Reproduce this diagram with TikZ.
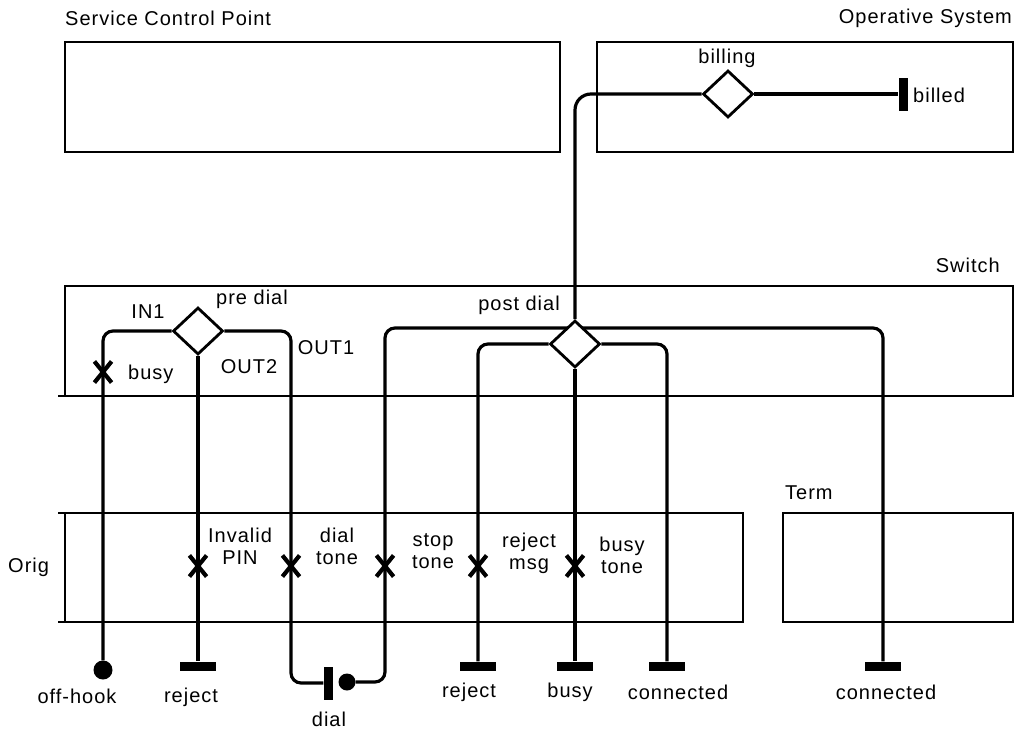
\documentclass[tikz,border=0pt]{standalone}
\usepackage{fontspec}
\setmainfont[LetterSpace=5]{Liberation Sans}
\usetikzlibrary{positioning,shapes.geometric,shapes.misc,backgrounds}

\tikzset{
  lane/.style={line width=1.3pt},
  wire/.style={line width=3.2pt, rounded corners=10pt},
  choice/.style={diamond, draw, fill=white, line width=2.8pt, inner sep=0pt,
    minimum width=50pt, minimum height=47pt},
  xmark/.style={cross out, draw, line width=4.2pt, inner sep=0pt,
    minimum width=13pt, minimum height=17pt},
  endbar/.style={fill, inner sep=0pt, minimum width=36pt, minimum height=9pt},
  sidebar/.style={fill, inner sep=0pt, minimum width=9pt, minimum height=33pt},
  startdot/.style={circle, fill, inner sep=0pt, minimum size=19pt},
  lbl/.style={font=\fontsize{20}{22}\selectfont, inner sep=0pt, align=center},
}

\begin{document}
\begin{tikzpicture}[x=1pt, y=-1pt]
  \useasboundingbox (0,0) rectangle (1019,736);

  % choice points
  \node[choice] (billing) at (728,94) {};
  \node[choice] (pre)     at (198,331) {};
  \node[choice] (post)    at (575,344) {};
  \coordinate (tap) at (575,328);

  % start and end markers
  \node[startdot] (hook)    at (103,670) {};
  \node[endbar]   (rejA)    at (198,666) {};
  \node[sidebar]  (dialbar) at (328,683) {};
  \node[startdot, minimum size=17pt] (dialdot) at (347,682) {};
  \node[endbar]   (rejB)    at (478,666) {};
  \node[endbar]   (busy)    at (575,666) {};
  \node[endbar]   (conn)    at (667,666) {};
  \node[endbar]   (tconn)   at (883,666) {};
  \node[sidebar]  (billed)  at (903,94) {};

  % signals
  \node[xmark] (xbusy) at (103,372) {};
  \node[xmark] (xpin)  at (198,566) {};
  \node[xmark] (xdt)   at (291,566) {};
  \node[xmark] (xst)   at (385,566) {};
  \node[xmark] (xrm)   at (478,566) {};
  \node[xmark] (xbt)   at (575,566) {};

  \begin{scope}[on background layer]
    % lanes
    \draw[lane] (65,42) rectangle (560,152);
    \draw[lane] (597,42) rectangle (1013,152);
    \draw[lane] (65,286) rectangle (1013,396);
    \draw[lane] (65,513) rectangle (743,622);
    \draw[lane] (783,513) rectangle (1013,622);
    \draw[lane] (58,396) -- (65,396) (58,513) -- (65,513) (58,622) -- (65,622);
    % wires
    \draw[wire] (pre.west) -| (hook.north);
    \draw[wire] (pre.south) -- (rejA.north);
    \draw[wire] (pre.east) -| (xdt.center) |- (dialbar.west);
    \draw[wire] (dialdot.east) -| (tap -| xst) -| (tconn.north);
    \draw[wire, rounded corners=16pt] (billing.west) -| (post.north);
    \draw[wire] (billing.east) -- (billed.west);
    \draw[wire] (post.west) -| (rejB.north);
    \draw[wire] (post.south) -- (busy.north);
    \draw[wire] (post.east) -| (conn.north);
  \end{scope}

  % labels
  \node[lbl, anchor=west] (lscp)    at (65,18)   {Service Control Point};
  \node[lbl, anchor=east] (los)     at (1012,18) {Operative System};
  \node[lbl, anchor=east] (lswitch) at (1000,265) {Switch};
  \node[lbl, anchor=west] (lterm)   at (785,493) {Term};
  \node[lbl, anchor=west] (lorig)   at (8,567)   {Orig};
  \node[lbl] (lbilling) at (727,58)  {billing};
  \node[lbl, anchor=west] (lbilled) at (913,95) {billed};
  \node[lbl] (lin)      at (148,312) {IN1};
  \node[lbl] (lpre)     at (252,299) {pre dial};
  \node[lbl, anchor=west] (lbusy) at (128,374) {busy};
  \node[lbl] (lout2)    at (249,367) {OUT2};
  \node[lbl] (lout1)    at (326,348) {OUT1};
  \node[lbl] (lpost)    at (519,305) {post dial};
  \node[lbl] (lpin)     at (240,546) {Invalid\\PIN};
  \node[lbl] (ldt)      at (337,546) {dial\\tone};
  \node[lbl] (lst)      at (433,551) {stop\\tone};
  \node[lbl] (lrm)      at (529,553) {reject\\msg};
  \node[lbl] (lbt)      at (622,555) {busy\\tone};
  \node[lbl] (lhook)    at (77,696)  {off-hook};
  \node[lbl] (lrejA)    at (191,697) {reject};
  \node[lbl] (ldial)    at (329,719) {dial};
  \node[lbl] (lrejB)    at (469,692) {reject};
  \node[lbl] (lbusyB)   at (570,692) {busy};
  \node[lbl] (lconn)    at (678,692) {connected};
  \node[lbl] (ltconn)   at (886,692) {connected};
\end{tikzpicture}
\end{document}
